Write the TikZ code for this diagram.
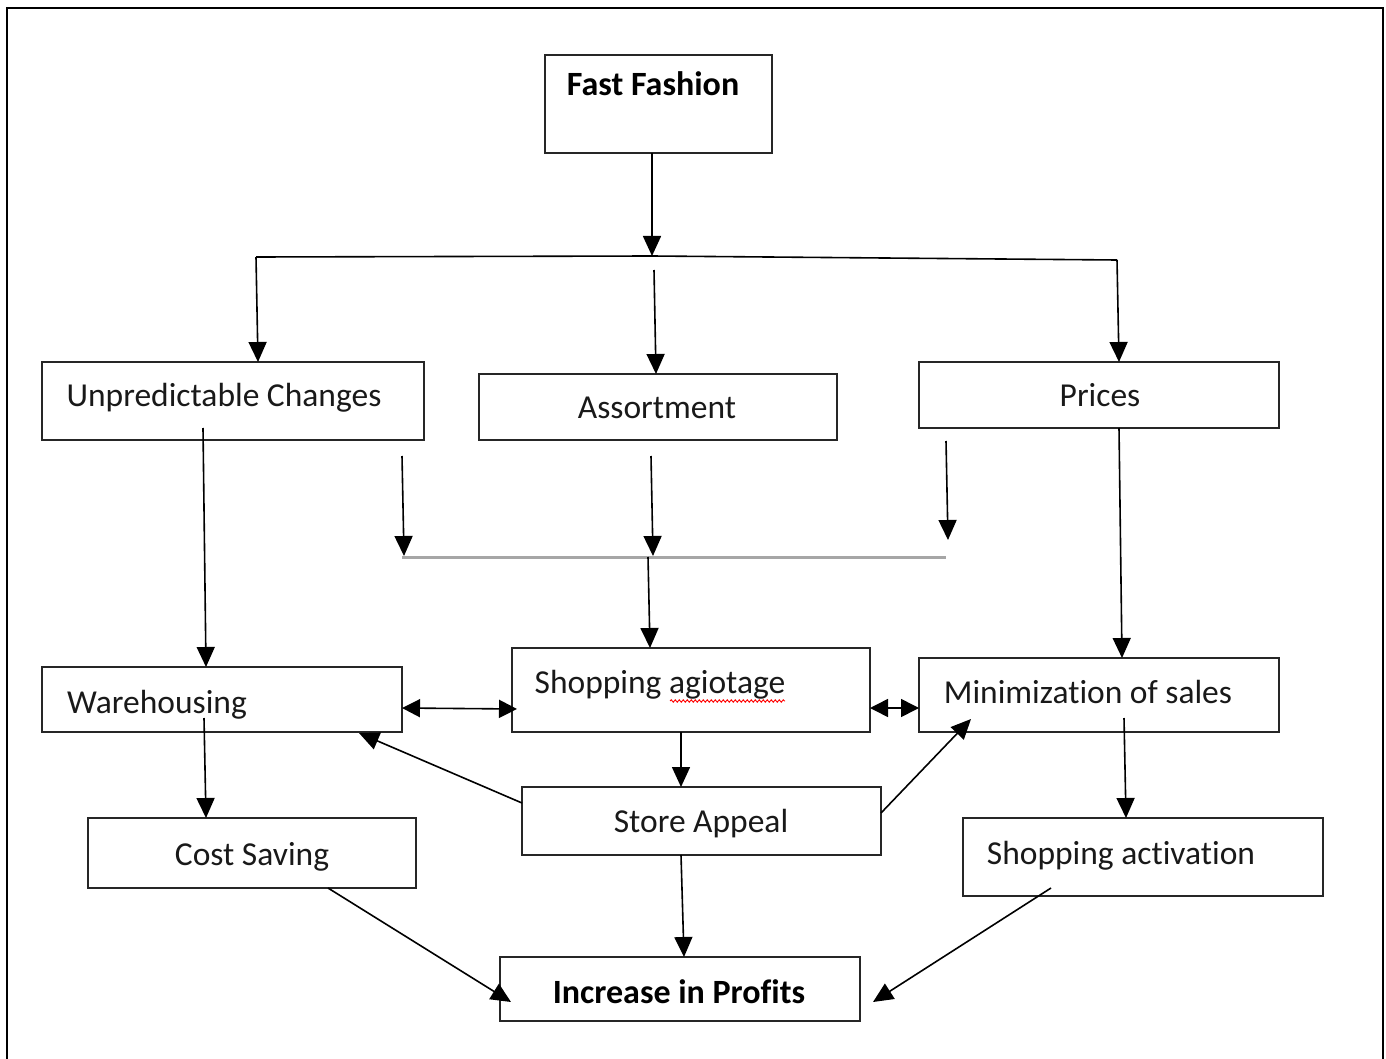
\documentclass[tikz,border=0pt]{standalone}
\usepackage{fontspec}
\setmainfont[Ligatures=NoCommon]{Carlito}
\usetikzlibrary{arrows.meta,decorations.pathmorphing}
\begin{document}
\begin{tikzpicture}[x=1pt,y=-1pt,
  box/.style={draw=black!85,line width=1.4pt,inner sep=0pt,outer sep=0pt},
  lbl/.style={anchor=base,inner sep=0pt,font=\fontsize{33.5}{40}\selectfont,text=black!90},
  blbl/.style={lbl,font=\fontsize{34}{40}\selectfont\bfseries,text=black},
  arr/.style={line width=1.6pt,-{Triangle[length=20pt,width=18pt]}},
  dbl/.style={line width=1.6pt,{Triangle[length=18pt,width=18pt]}-{Triangle[length=18pt,width=18pt]}},
  plain/.style={line width=1.6pt},
  grey/.style={line width=3pt,draw=gray!70}]
\useasboundingbox (0,0) rectangle (1386,1059);
% outer frame (bottom edge outside the picture)
\begin{scope}
\clip (0,0) rectangle (1386,1059);
\draw[line width=2.8pt] (7,8) rectangle (1383,1075);
\end{scope}
% boxes
\node[box,minimum width=227,minimum height=98] (ff) at (658.5,104) {};
\node[box,minimum width=382,minimum height=78] (uc) at (233,401) {};
\node[box,minimum width=358,minimum height=66] (as) at (658,407) {};
\node[box,minimum width=360,minimum height=66] (pr) at (1099,395) {};
\node[box,minimum width=360,minimum height=65] (wh) at (222,699.5) {};
\node[box,minimum width=358,minimum height=84] (sa) at (691,690) {};
\node[box,minimum width=360,minimum height=74] (ms) at (1099,695) {};
\node[box,minimum width=359,minimum height=68] (st) at (701.5,821) {};
\node[box,minimum width=328,minimum height=70] (cs) at (252,853) {};
\node[box,minimum width=360,minimum height=78] (sact) at (1143,857) {};
\node[box,minimum width=360,minimum height=64] (ip) at (680,989) {};
% labels
\node[blbl] (ffT) at (653,96) {Fast Fashion};
\node[lbl] (ucT) at (224,406) {Unpredictable Changes};
\node[lbl] (asT) at (657,418) {Assortment};
\node[lbl] (prT) at (1100,406) {Prices};
\node[lbl] (whT) at (157,713) {Warehousing};
\node[lbl] (saT) at (660,693) {Shopping agiotage};
\node[lbl] (msT) at (1088,703) {Minimization of sales};
\node[lbl] (stT) at (701,832) {Store Appeal};
\node[lbl] (csT) at (252,865) {Cost Saving};
\node[lbl] (sactT) at (1121,864) {Shopping activation};
\node[blbl] (ipT) at (679,1003) {Increase in Profits};
% red spell-check underline
\draw[red,line width=0.9pt,decorate,decoration={snake,amplitude=1.2pt,segment length=4pt}] (670,701) -- (785,701);
% top distribution
\coordinate (t1) at (652,256);
\coordinate (hl) at (256,257);
\coordinate (hr) at (1117,260);
\coordinate (m0) at (654,270);
\draw[arr] (ff.south -| 652,0) -- (t1);
\draw[plain] (hl) -- (t1) -- (hr);
\draw[arr] (hl) -- (uc.north -| 258,0);
\draw[arr] (hr) -- (pr.north -| 1119,0);
\draw[arr] (m0) -- (as.north -| 656,0);
% lower collecting line
\coordinate (g1) at (402,557);
\coordinate (g2) at (946,557);
\coordinate (gm) at (648,557);
\draw[grey] (g1) -- (g2);
\draw[arr] (402,456) -- (404,556);
\draw[arr] (651,456) -- (653,556);
\draw[arr] (946,441) -- (948,540);
\draw[arr] (gm) -- (sa.north -| 650,0);
% verticals
\draw[arr] (203,428) -- (wh.north -| 206,0);
\draw[arr] (1119,428) -- (ms.north -| 1122,0);
\draw[arr] (204,718) -- (cs.north -| 206,0);
\draw[arr] (1124,718) -- (sact.north -| 1126,0);
\draw[arr] (sa.south -| 681,0) -- (st.north -| 681,0);
\draw[arr] (st.south -| 681,0) -- (ip.north -| 684,0);
% double arrows
\draw[dbl] (wh.east |- 0,708) -- (517,709);
\draw[dbl] (sa.east |- 0,708) -- (ms.west |- 0,708);
% diagonals
\draw[arr] (st.west |- 0,803) -- (359,733);
\draw[arr] (st.east |- 0,813) -- (971,719);
\draw[arr] (328,888) -- (511,1002);
\draw[arr] (1051,888) -- (873,1002);
\end{tikzpicture}
\end{document}
